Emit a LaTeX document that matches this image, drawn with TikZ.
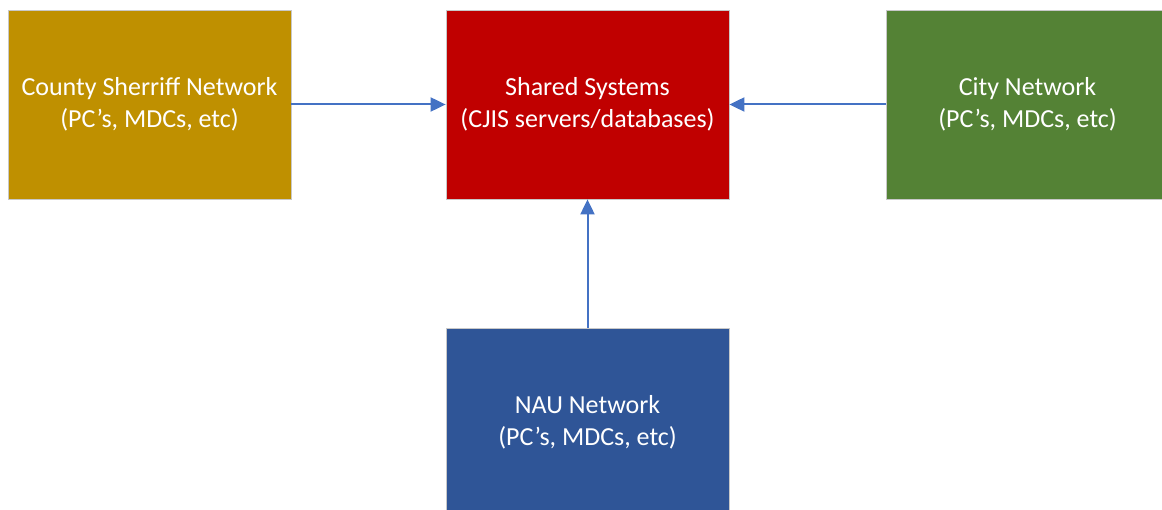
\documentclass[tikz,border=0pt]{standalone}
\usepackage{fontspec}
\setmainfont{Carlito}
\usetikzlibrary{arrows.meta}
\definecolor{gold}{HTML}{BF9000}
\definecolor{redbox}{HTML}{C00000}
\definecolor{greenbox}{HTML}{548235}
\definecolor{bluebox}{HTML}{2F5597}
\definecolor{arrowblue}{HTML}{4472C4}
\definecolor{edgegray}{HTML}{C8C8C8}
\tikzset{
  netbox/.style={draw=edgegray, line width=0.8pt, minimum width=283pt, minimum height=189pt, text=white, align=center, inner sep=0pt, font=\fontsize{26}{32}\selectfont},
  conn/.style={draw=arrowblue, line width=2pt, -{Triangle[length=15pt, width=14pt]}}
}
\begin{document}
\begin{tikzpicture}[x=1pt,y=-1pt]
\useasboundingbox (0,0) rectangle (1162,510);
\node[netbox, fill=gold] (county) at (149.5,104.5) {County Sherriff Network\\(PC’s, MDCs, etc)};
\node[netbox, fill=redbox] (shared) at (587.5,104.5) {Shared Systems\\(CJIS servers/databases)};
\node[netbox, fill=greenbox] (city) at (1027.5,104.5) {City Network\\(PC’s, MDCs, etc)};
\node[netbox, fill=bluebox] (nau) at (587.5,422.5) {NAU Network\\(PC’s, MDCs, etc)};
\draw[conn] (county.east) -- (shared.west);
\draw[conn] (city.west) -- (shared.east);
\draw[conn] (nau.north) -- (shared.south);
\end{tikzpicture}
\end{document}
